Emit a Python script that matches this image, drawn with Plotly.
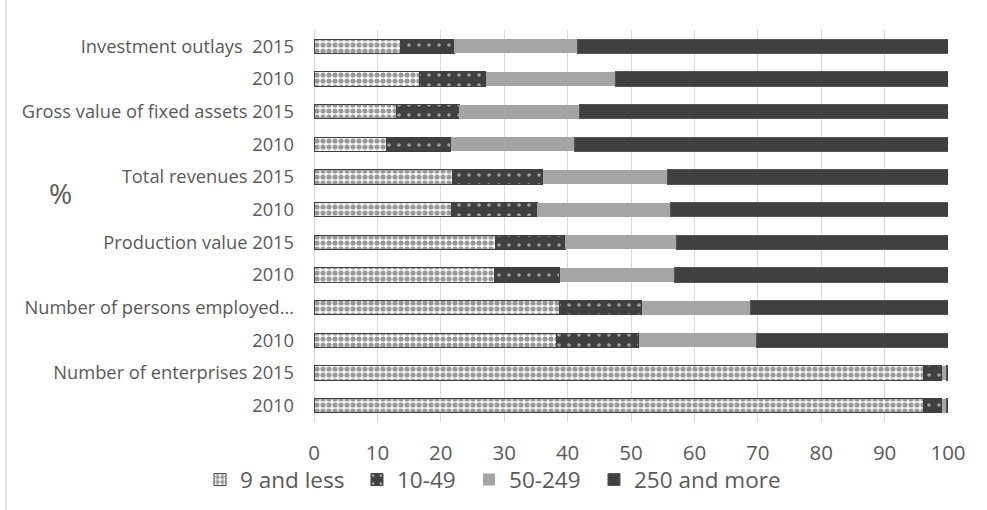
import plotly.graph_objects as go

row_ids = ["Investment outlays 2015", "Investment outlays 2010",
           "Gross value of fixed assets 2015", "Gross value of fixed assets 2010",
           "Total revenues 2015", "Total revenues 2010",
           "Production value 2015", "Production value 2010",
           "Number of persons employed 2015", "Number of persons employed 2010",
           "Number of enterprises 2015", "Number of enterprises 2010"]
row_labels = ["Investment outlays  2015", "2010",
              "Gross value of fixed assets 2015", "2010",
              "Total revenues 2015", "2010",
              "Production value 2015", "2010",
              "Number of persons employed…", "2010",
              "Number of enterprises 2015", "2010"]

s_9_less = [13.6, 16.6, 13.0, 11.5, 21.8, 21.7, 28.7, 28.4, 38.8, 38.3, 96.1, 96.1]
s_10_49 = [8.5, 10.5, 9.9, 10.1, 14.3, 13.5, 10.9, 10.4, 12.9, 12.9, 2.9, 2.9]
s_50_249 = [19.5, 20.4, 18.9, 19.5, 19.7, 21.0, 17.6, 18.0, 17.2, 18.6, 0.7, 0.7]
s_250_more = [58.4, 52.5, 58.2, 58.9, 44.2, 43.8, 42.8, 43.2, 31.1, 30.2, 0.3, 0.3]

series_names = ["9 and less", "10-49", "50-249", "250 and more"]

DARK = "#404040"
TXT = "#595959"
fig = go.Figure()
fig.add_trace(go.Bar(
    y=row_ids, x=s_9_less, name=series_names[0], orientation="h", legend="legend",
    marker=dict(color="white", line=dict(color=DARK, width=1),
                pattern=dict(shape=".", fgcolor="#333333", bgcolor="white", size=6, solidity=0.6))))
fig.add_trace(go.Bar(
    y=row_ids, x=s_10_49, name=series_names[1], orientation="h", legend="legend2",
    marker=dict(color=DARK, line=dict(color=DARK, width=1),
                pattern=dict(shape=".", fgcolor="white", bgcolor=DARK, size=10, solidity=0.1))))
fig.add_trace(go.Bar(
    y=row_ids, x=s_50_249, name=series_names[2], orientation="h", legend="legend3",
    marker=dict(color="#a5a5a5", line=dict(width=0))))
fig.add_trace(go.Bar(
    y=row_ids, x=s_250_more, name=series_names[3], orientation="h", legend="legend4",
    marker=dict(color=DARK, line=dict(color="#555555", width=1))))

leg_common = dict(orientation="h", xanchor="left", y=-0.093, yanchor="top",
                  font=dict(size=22.5, color=TXT), bgcolor="rgba(0,0,0,0)")

fig.update_layout(
    barmode="stack",
    bargap=0.57,
    width=987, height=510,
    paper_bgcolor="white", plot_bgcolor="white",
    margin=dict(l=314, r=39, t=30, b=88, autoexpand=False),
    font=dict(family="Open Sans", color=TXT),
    xaxis=dict(range=[0, 100], dtick=10, showgrid=True, gridcolor="#d9d9d9", gridwidth=1,
               zeroline=True, zerolinecolor="#d9d9d9", zerolinewidth=1,
               showline=False, ticks="", tickfont=dict(size=20.5, color=TXT),
               ticklabelstandoff=16, automargin=False),
    yaxis=dict(type="category", categoryorder="array", categoryarray=row_ids,
               autorange="reversed", tickmode="array", tickvals=row_ids, ticktext=row_labels,
               tickfont=dict(size=18.3, color=TXT), ticks="", showgrid=False,
               ticklabelstandoff=19, automargin=False),
    legend=dict(x=-0.1798, **leg_common),
    legend2=dict(x=0.0678, **leg_common),
    legend3=dict(x=0.2445, **leg_common),
    legend4=dict(x=0.4416, **leg_common),
    showlegend=True,
    annotations=[dict(text="%", xref="paper", yref="paper", x=-0.421, y=0.584,
                      showarrow=False, font=dict(size=28, color=TXT))],
    shapes=[dict(type="line", xref="paper", yref="paper", x0=-0.486, x1=-0.486,
                 y0=1.08, y1=-0.23, line=dict(color="#d9d9d9", width=1.5))],
)

fig.write_html("out.html")
